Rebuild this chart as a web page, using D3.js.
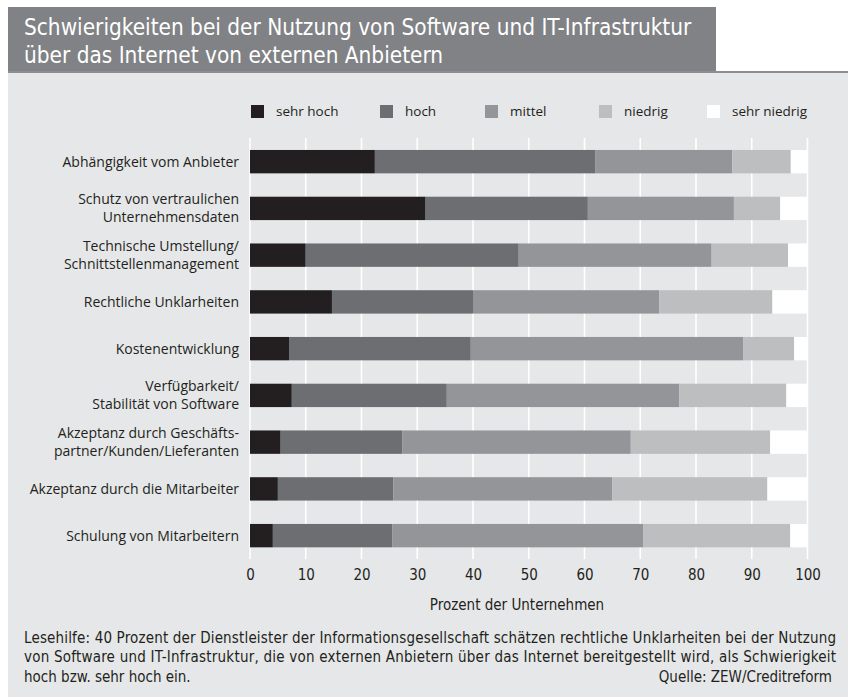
<!DOCTYPE html>
<html>
    <head>
        <title>Schwierigkeiten</title>
        <meta charset="UTF-8">
        <style>
            body { margin: 0; background: #fff; }
            .lbl text { font: 14px "Open Sans", sans-serif; fill: #231f20; }
            .leg text { font: 13.5px "Open Sans", sans-serif; fill: #231f20; }
            .cond { font-family: "Liberation Sans Narrow", "DejaVu Sans Condensed", sans-serif; }
        </style>
    </head>
<body>
    <svg width="848" height="697"></svg>
    <script src="https://d3js.org/d3.v7.min.js"></script>
    <script>

        var categories = [
            ["Abhängigkeit vom Anbieter"],
            ["Schutz von vertraulichen", "Unternehmensdaten"],
            ["Technische Umstellung/", "Schnittstellenmanagement"],
            ["Rechtliche Unklarheiten"],
            ["Kostenentwicklung"],
            ["Verfügbarkeit/", "Stabilität von Software"],
            ["Akzeptanz durch Geschäfts-", "partner/Kunden/Lieferanten"],
            ["Akzeptanz durch die Mitarbeiter"],
            ["Schulung von Mitarbeitern"]
        ];
        var seriesNames = ["sehr hoch", "hoch", "mittel", "niedrig", "sehr niedrig"];
        var sehrHoch    = [22.4, 31.5, 10.0, 14.7,  7.0,  7.5,  5.5,  5.0,  4.1];
        var hoch        = [39.5, 29.1, 38.2, 25.3, 32.6, 27.8, 21.8, 20.7, 21.4];
        var mittel      = [24.6, 26.2, 34.6, 33.4, 48.9, 41.7, 41.0, 39.3, 45.0];
        var niedrig     = [10.5,  8.3, 13.7, 20.3,  9.1, 19.2, 25.0, 27.8, 26.4];
        var sehrNiedrig = [ 3.0,  4.9,  3.5,  6.3,  2.4,  3.8,  6.7,  7.2,  3.1];
        var xTicks = [0, 10, 20, 30, 40, 50, 60, 70, 80, 90, 100];

        var colors = ["#231f20", "#6d6e71", "#939598", "#bcbec0", "#ffffff"];

        var svg = d3.select("svg");

        // background panels
        svg.append("rect").attr("x", 8).attr("y", 72).attr("width", 840).attr("height", 625).attr("fill", "#e6e7e8");
        svg.append("rect").attr("x", 8).attr("y", 7).attr("width", 708).attr("height", 64).attr("fill", "#808285");
        svg.append("rect").attr("x", 8).attr("y", 71).attr("width", 840).attr("height", 2).attr("fill", "#8d8e91");

        var title = svg.append("text").attr("class", "cond").attr("fill", "#fff").style("font-size", "22.4px");
        title.append("tspan").attr("x", 24).attr("y", 35).text("Schwierigkeiten bei der Nutzung von Software und IT-Infrastruktur");
        title.append("tspan").attr("x", 24).attr("y", 63).text("über das Internet von externen Anbietern");

        var rows = categories.map(function (c, i) {
            return {
                key: c.join(" "),
                lines: c,
                "sehr hoch": sehrHoch[i],
                "hoch": hoch[i],
                "mittel": mittel[i],
                "niedrig": niedrig[i],
                "sehr niedrig": sehrNiedrig[i]
            };
        });

        var x = d3.scaleLinear().domain([0, 100]).range([250, 807.5]);
        var y = d3.scaleBand().domain(rows.map(function (d) { return d.key; }))
                .range([126.6, 570.7]).padding(0.5);
        var color = d3.scaleOrdinal().domain(seriesNames).range(colors);

        // grid
        svg.append("g").selectAll("line")
                .data(xTicks)
                .enter().append("line")
                .attr("x1", function (d) { return x(d); })
                .attr("x2", function (d) { return x(d); })
                .attr("y1", 138).attr("y2", 559)
                .attr("stroke", "#fff").attr("stroke-width", 1.6);

        var stack = d3.stack().keys(seriesNames);

        svg.append("g").selectAll("g")
                .data(stack(rows))
                .enter().append("g")
                .attr("fill", function (d) { return color(d.key); })
                .selectAll("rect")
                .data(function (d) { return d; })
                .enter().append("rect")
                .attr("x", function (d) { return x(d[0]); })
                .attr("width", function (d) { return x(d[1]) - x(d[0]); })
                .attr("y", function (d) { return y(d.data.key); })
                .attr("height", y.bandwidth());

        // category labels
        var lbl = svg.append("g").attr("class", "lbl");
        rows.forEach(function (r) {
            var cy = y(r.key) + y.bandwidth() / 2;
            var t = lbl.append("text").attr("text-anchor", "end");
            r.lines.forEach(function (s, j) {
                t.append("tspan").attr("x", 239)
                        .attr("y", cy + 5 + (j - (r.lines.length - 1) / 2) * 18)
                        .text(s);
            });
        });

        // legend
        var legX = [251, 380, 485, 599, 707];
        var leg = svg.append("g").attr("class", "leg").selectAll("g")
                .data(seriesNames)
                .enter().append("g")
                .attr("transform", function (d, i) { return "translate(" + legX[i] + ",105)"; });
        leg.append("rect").attr("width", 13).attr("height", 13).attr("fill", function (d) { return color(d); });
        leg.append("text").attr("x", 25).attr("y", 11).text(function (d) { return d; });

        // x axis
        var ax = svg.append("g").attr("transform", "translate(0,559)")
                .call(d3.axisBottom(x).tickValues(xTicks).tickSize(0).tickPadding(10));
        ax.select(".domain").remove();
        ax.selectAll("text").attr("class", "cond").style("font-size", "15px").attr("fill", "#231f20");

        svg.append("text").attr("class", "cond").attr("x", 517).attr("y", 610)
                .attr("text-anchor", "middle").attr("fill", "#231f20").style("font-size", "15px")
                .text("Prozent der Unternehmen");

        // footer
        var foot = svg.append("text").attr("class", "cond").attr("fill", "#231f20").style("font-size", "15px");
        foot.append("tspan").attr("x", 24).attr("y", 643).attr("textLength", 812).attr("lengthAdjust", "spacing")
                .text("Lesehilfe: 40 Prozent der Dienstleister der Informationsgesellschaft schätzen rechtliche Unklarheiten bei der Nutzung");
        foot.append("tspan").attr("x", 24).attr("y", 662).attr("textLength", 812).attr("lengthAdjust", "spacing")
                .text("von Software und IT-Infrastruktur, die von externen Anbietern über das  Internet bereitgestellt wird, als Schwierigkeit");
        foot.append("tspan").attr("x", 24).attr("y", 682).text("hoch bzw. sehr hoch ein.");
        svg.append("text").attr("class", "cond").attr("x", 832).attr("y", 682).attr("text-anchor", "end")
                .attr("fill", "#231f20").style("font-size", "15px").text("Quelle: ZEW/Creditreform");

    </script>
</body>
</html>
